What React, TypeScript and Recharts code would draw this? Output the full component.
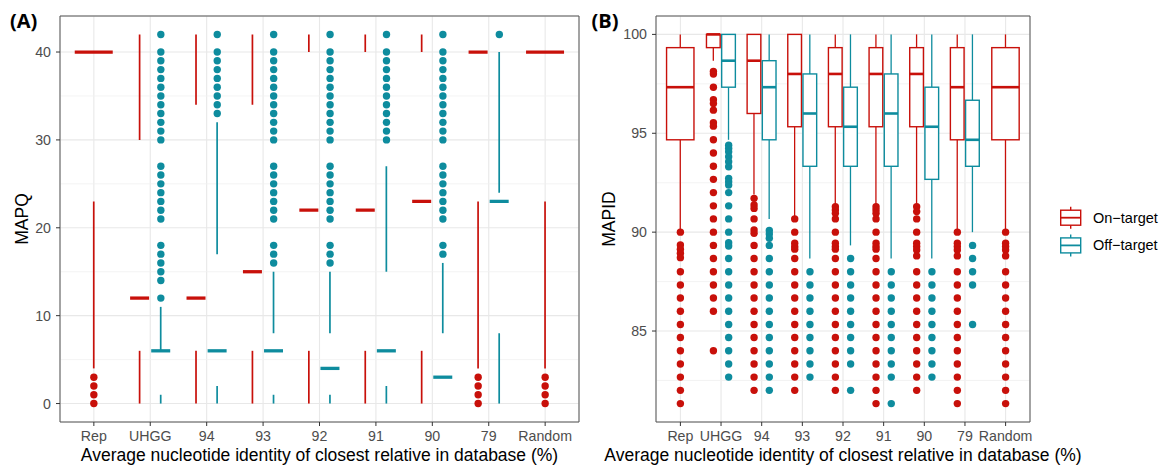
import React from 'react'
import {
  ComposedChart,
  Bar,
  Scatter,
  XAxis,
  YAxis,
  CartesianGrid,
  ReferenceArea,
} from 'recharts'

const RED = '#C8100A'
const TEAL = '#0E8C9E'
const FONT = '"Liberation Sans", Arial, Helvetica, sans-serif'

type Five = [number, number, number, number, number] | null

const categories = ['Rep', 'UHGG', '94', '93', '92', '91', '90', '79', 'Random']

// [lower whisker, Q1, median, Q3, upper whisker]
const mapqOnTarget: Five[] = [
  [4, 23, 40, 40, 40],
  [0, 6, 12, 30, 42],
  [0, 6, 12, 34, 42],
  [0, 6, 15, 34, 42],
  [0, 6, 22, 40, 42],
  [0, 6, 22, 40, 42],
  [0, 6, 23, 40, 42],
  [4, 23, 40, 40, 40],
  [4, 23, 40, 40, 40],
]
const mapqOffTarget: Five[] = [
  null,
  [0, 1, 6, 6, 11],
  [0, 2, 6, 17, 32],
  [0, 1, 6, 8, 15],
  [0, 1, 4, 8, 15],
  [0, 2, 6, 15, 27],
  [0, 0, 3, 8, 16],
  [0, 8, 23, 24, 40],
  null,
]
const mapqOnOutliers: number[][] = [
  [0, 1, 2, 3], [], [], [], [], [], [], [0, 1, 2, 3], [0, 1, 2, 3],
]
const mapqOffOutliers: number[][] = [
  [],
  [12, 14, 15, 16, 17, 18, 21, 22, 23, 24, 25, 26, 27, 30, 31, 32, 33, 34, 35, 36, 37, 38, 39, 40, 42],
  [33, 34, 35, 36, 37, 38, 39, 40, 42],
  [16, 17, 18, 21, 22, 23, 24, 25, 26, 27, 30, 31, 32, 33, 34, 35, 36, 37, 38, 39, 40, 42],
  [16, 17, 18, 21, 22, 23, 24, 25, 26, 27, 30, 31, 32, 33, 34, 35, 36, 37, 38, 39, 40, 42],
  [30, 31, 32, 33, 34, 35, 36, 37, 38, 39, 40, 42],
  [17, 18, 21, 22, 23, 24, 25, 26, 27, 30, 31, 32, 33, 34, 35, 36, 37, 38, 39, 40, 42],
  [42],
  [],
]

const mapidOnTarget: Five[] = [
  [90.0, 94.67, 97.33, 99.33, 100],
  [98.67, 99.33, 100, 100, 100],
  [91.9, 96.0, 98.67, 100, 100],
  [90.8, 95.33, 98.0, 100, 100],
  [91.3, 95.33, 98.0, 99.33, 100],
  [91.3, 95.33, 98.0, 99.33, 100],
  [91.3, 95.33, 98.0, 99.33, 100],
  [90.0, 94.67, 97.33, 99.33, 100],
  [90.0, 94.67, 97.33, 99.33, 100],
]
const mapidOffTarget: Five[] = [
  null,
  [94.67, 97.33, 98.67, 100, 100],
  [90.67, 94.67, 97.33, 98.67, 100],
  [88.67, 93.33, 96.0, 98.0, 100],
  [89.33, 93.33, 95.33, 97.33, 100],
  [88.67, 93.33, 96.0, 98.0, 100],
  [88.67, 92.67, 95.33, 97.33, 100],
  [90.0, 93.33, 94.67, 96.67, 100],
  null,
]
const mapidOnOutliers: number[][] = [
  [90.0, 89.35, 89.14, 88.93, 88.71, 88.0, 87.33, 86.67, 86.0, 85.33, 84.67, 84.0, 83.33, 82.67, 82.0, 81.33],
  [98.13, 98.0, 97.33, 96.7, 96.5, 96.17, 95.53, 95.36, 94.67, 94.0, 93.33, 92.67, 92.0, 91.33, 90.67, 90.0, 89.33, 88.67, 88.0, 87.33, 86.67, 86.0, 84.0],
  [91.71, 91.37, 91.2, 90.67, 90.11, 89.94, 89.33, 88.67, 88.0, 87.33, 86.67, 86.0, 85.33, 84.67, 84.0, 83.33, 82.67, 82.0],
  [90.67, 90.0, 89.44, 89.27, 89.14, 88.67, 88.0, 87.33, 86.67, 86.0, 85.33, 84.67, 84.0, 83.33, 82.67, 82.0],
  [91.29, 91.12, 90.95, 90.67, 90.0, 89.44, 89.27, 89.14, 88.67, 88.0, 87.33, 86.67, 86.0, 85.33, 84.67, 84.0, 83.33, 82.67, 82.0],
  [91.29, 91.12, 90.95, 90.67, 90.0, 89.44, 89.27, 89.14, 88.67, 88.0, 87.33, 86.67, 86.0, 85.33, 84.67, 84.0, 83.33, 82.67, 82.0, 81.33],
  [91.29, 91.04, 90.67, 90.0, 89.44, 89.27, 89.1, 88.8, 88.0, 87.33, 86.67, 86.0, 85.33, 84.67, 84.0, 83.33, 82.67, 82.0],
  [90.0, 89.44, 89.27, 89.1, 88.8, 88.0, 87.33, 86.67, 86.0, 85.33, 84.67, 84.0, 83.33, 82.67, 82.0, 81.33],
  [90.0, 89.44, 89.27, 89.1, 88.8, 88.0, 87.33, 86.67, 86.0, 85.33, 84.67, 84.0, 83.33, 82.67, 82.0, 81.33],
]
const mapidOffOutliers: number[][] = [
  [],
  [94.4, 94.23, 94.06, 93.81, 93.56, 93.31, 92.72, 92.55, 92.38, 92.0, 91.33, 90.67, 90.0, 89.47, 89.3, 88.67, 88.0, 87.33, 86.67, 86.0, 85.33, 84.67, 84.0, 83.33, 82.67],
  [90.08, 89.91, 89.69, 89.33, 88.67, 88.0, 87.33, 86.67, 86.0, 85.33, 84.67, 84.0, 83.33, 82.67, 82.0],
  [88.0, 87.33, 86.67, 86.0, 85.33, 84.67, 84.0, 83.33, 82.67],
  [88.67, 88.0, 87.33, 86.67, 86.0, 85.33, 84.67, 84.0, 83.33, 82.0],
  [88.0, 87.33, 86.67, 86.0, 85.33, 84.67, 84.0, 83.33, 82.67, 81.33],
  [88.0, 87.33, 86.67, 86.0, 85.33, 84.67, 84.0, 83.33, 82.67],
  [89.33, 88.67, 88.0, 87.33, 85.33],
  [],
]

const mapqTicks = [0, 10, 20, 30, 40]
const mapqMinor = [5, 15, 25, 35]
const mapidTicks = [85, 90, 95, 100]
const mapidMinor = [82.5, 87.5, 92.5, 97.5]

const DODGE = 0.1875

type Cfg = {
  slot: number
  half: number
  whisker: number
  median: number
  box: boolean
}

const makeBoxShape = (key: 'on' | 'off', color: string, cfg: Cfg) => (props: any) => {
  const { x, y, width, height, payload } = props
  const s: Five = payload?.[key]
  if (!s || !Number.isFinite(y) || !Number.isFinite(height)) return <g />
  const [lo, q1, med, q3, hi] = s
  const top = Math.min(y, y + height)
  const bottom = Math.max(y, y + height)
  const py = (v: number) => bottom - ((v - lo) / (hi - lo)) * (bottom - top)
  const mid = key === 'on' ? x + width : x
  const cx = payload.single ? mid : mid + (key === 'on' ? -width / 2 : width / 2)
  const half = payload.single ? cfg.half * 2 : cfg.half
  return (
    <g>
      <line x1={cx} x2={cx} y1={py(hi)} y2={py(q3)} stroke={color} strokeWidth={cfg.whisker} />
      <line x1={cx} x2={cx} y1={py(q1)} y2={py(lo)} stroke={color} strokeWidth={cfg.whisker} />
      {cfg.box && (
        <rect
          x={cx - half}
          y={py(q3)}
          width={half * 2}
          height={py(q1) - py(q3)}
          fill="#fff"
          stroke={color}
          strokeWidth={1.4}
        />
      )}
      <line x1={cx - half} x2={cx + half} y1={py(med)} y2={py(med)} stroke={color} strokeWidth={cfg.median} />
    </g>
  )
}

const dot = (color: string) => (p: any) => <circle cx={p.cx} cy={p.cy} r={3.7} fill={color} />

type PanelProps = {
  left: number
  width: number
  marginRight: number
  yWidth: number
  domain: [number, number]
  ticks: number[]
  minor: number[]
  yTitle: string
  yTitleX: number
  on: Five[]
  off: Five[]
  onOut: number[][]
  offOut: number[][]
  cfg: Cfg
}

function Panel(p: PanelProps) {
  const rows = categories.map((cat, i) => ({ cat, on: p.on[i], off: p.off[i], single: p.off[i] == null }))
  const onPts = p.onOut.flatMap((vals, i) =>
    vals.map((v) => ({ x: i + 1 + (p.off[i] == null ? 0 : -DODGE), y: v })),
  )
  const offPts = p.offOut.flatMap((vals, i) => vals.map((v) => ({ x: i + 1 + DODGE, y: v })))
  const plotW = p.width - p.yWidth - p.marginRight
  const pad = (plotW * 0.1) / 9.2
  return (
    <div style={{ position: 'absolute', left: p.left, top: 0 }}>
      <ComposedChart
        width={p.width}
        height={468}
        data={rows}
        margin={{ top: 16, right: p.marginRight, bottom: 0, left: 0 }}
        barSize={p.cfg.slot}
        barGap={0}
      >
        <CartesianGrid stroke="#E8E8E8" strokeWidth={1.1} />
        <CartesianGrid vertical={false} horizontalValues={p.minor} stroke="#F0F0F0" strokeWidth={0.8} />
        <XAxis
          dataKey="cat"
          type="category"
          interval={0}
          padding={{ left: pad, right: pad }}
          height={46}
          axisLine={false}
          tickSize={4}
          tickMargin={5}
          tickLine={{ stroke: '#333' }}
          tick={{ fill: '#4D4D4D', fontSize: 14.2, fontFamily: FONT }}
          label={{
            value: 'Average nucleotide identity of closest relative in database (%)',
            position: 'insideBottom',
            offset: 7,
            fill: '#000',
            fontSize: 17.5,
            fontFamily: FONT,
          }}
        />
        <XAxis xAxisId="num" type="number" dataKey="x" domain={[0.4, 9.6]} allowDataOverflow hide />
        <YAxis
          type="number"
          domain={p.domain}
          ticks={p.ticks}
          allowDataOverflow
          width={p.yWidth}
          axisLine={false}
          tickSize={4}
          tickMargin={5}
          tickLine={{ stroke: '#333' }}
          tick={{ fill: '#4D4D4D', fontSize: 14.2, fontFamily: FONT }}
          label={{
            content: ({ viewBox }: any) => {
              const cy = viewBox.y + viewBox.height / 2
              return (
                <text
                  x={p.yTitleX}
                  y={cy}
                  transform={`rotate(-90 ${p.yTitleX} ${cy})`}
                  textAnchor="middle"
                  fill="#000"
                  fontSize={17.5}
                  fontFamily={FONT}
                >
                  {p.yTitle}
                </text>
              )
            },
          }}
        />
        <Bar
          dataKey={(d: any) => (d.on ? [d.on[0], d.on[4]] : undefined)}
          shape={makeBoxShape('on', RED, p.cfg)}
          isAnimationActive={false}
        />
        <Bar
          dataKey={(d: any) => (d.off ? [d.off[0], d.off[4]] : undefined)}
          shape={makeBoxShape('off', TEAL, p.cfg)}
          isAnimationActive={false}
        />
        <Scatter xAxisId="num" data={onPts} dataKey="y" shape={dot(RED)} isAnimationActive={false} />
        <Scatter xAxisId="num" data={offPts} dataKey="y" shape={dot(TEAL)} isAnimationActive={false} />
        <ReferenceArea
          xAxisId="num"
          x1={0.4}
          x2={9.6}
          y1={p.domain[0]}
          y2={p.domain[1]}
          fill="none"
          stroke="#555"
          strokeWidth={1}
          ifOverflow="visible"
        />
      </ComposedChart>
    </div>
  )
}

function LegendGlyph({ y, color }: { y: number; color: string }) {
  return (
    <g>
      <line x1={1070.7} x2={1070.7} y1={y - 11} y2={y + 11} stroke={color} strokeWidth={1.4} />
      <rect x={1060.7} y={y - 7.5} width={20} height={15} fill="#fff" stroke={color} strokeWidth={1.4} />
      <line x1={1060.7} x2={1080.7} y1={y} y2={y} stroke={color} strokeWidth={1.8} />
    </g>
  )
}

export default function App() {
  return (
    <div style={{ position: 'absolute', left: 0, top: 0, width: 1171, height: 468, background: '#fff' }}>
      <Panel
        left={0}
        width={585}
        marginRight={6}
        yWidth={60}
        domain={[-2.1, 44.1]}
        ticks={mapqTicks}
        minor={mapqMinor}
        yTitle="MAPQ"
        yTitleX={28}
        on={mapqOnTarget}
        off={mapqOffTarget}
        onOut={mapqOnOutliers}
        offOut={mapqOffOutliers}
        cfg={{ slot: 21.1, half: 9.5, whisker: 1.7, median: 3.3, box: false }}
      />
      <Panel
        left={590}
        width={581}
        marginRight={141}
        yWidth={66}
        domain={[80.4, 100.93]}
        ticks={mapidTicks}
        minor={mapidMinor}
        yTitle="MAPID"
        yTitleX={25}
        on={mapidOnTarget}
        off={mapidOffTarget}
        onOut={mapidOnOutliers}
        offOut={mapidOffOutliers}
        cfg={{ slot: 15.2, half: 6.85, whisker: 1.3, median: 2.6, box: true }}
      />
      <svg width={1171} height={468} style={{ position: 'absolute', left: 0, top: 0, pointerEvents: 'none' }}>
        <text x={10} y={28} fontSize={20} fontWeight={700} fontFamily='"Open Sans", sans-serif' fill="#000">
          (A)
        </text>
        <text x={591.5} y={28} fontSize={20} fontWeight={700} fontFamily='"Open Sans", sans-serif' fill="#000">
          (B)
        </text>
        <LegendGlyph y={217.7} color={RED} />
        <LegendGlyph y={245.4} color={TEAL} />
        <text x={1093} y={222.5} fontSize={14.5} fontFamily={FONT} fill="#000">
          On−target
        </text>
        <text x={1093} y={250.2} fontSize={14.5} fontFamily={FONT} fill="#000">
          Off−target
        </text>
      </svg>
    </div>
  )
}
